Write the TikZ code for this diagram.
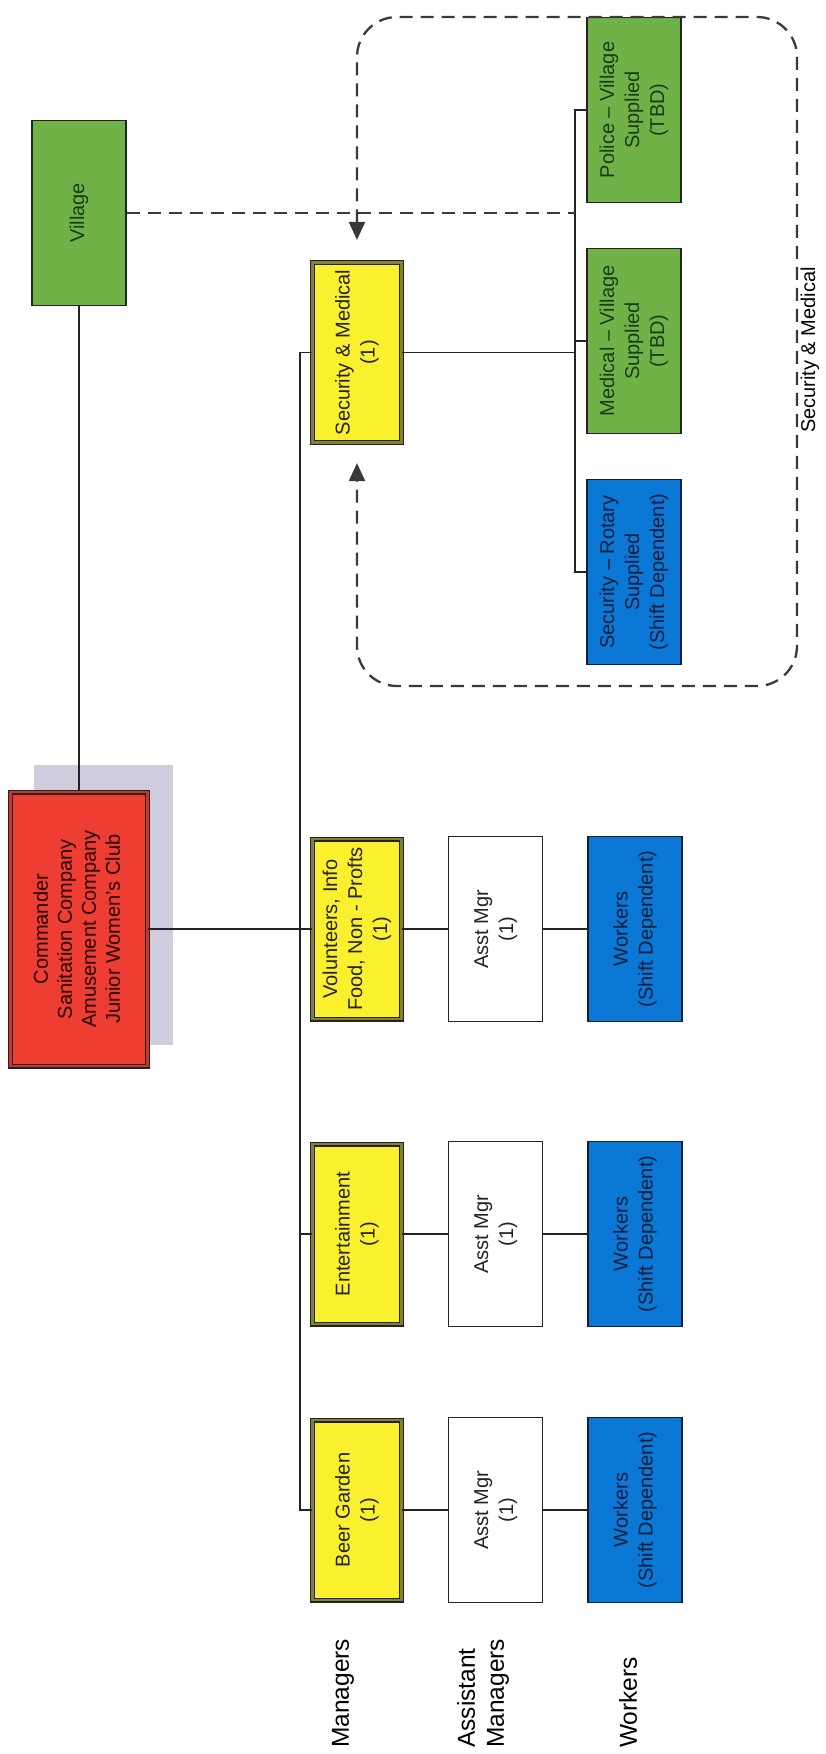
\documentclass[tikz,border=0pt]{standalone}
\usepackage{fontspec}
\setmainfont{Liberation Sans}
\usepackage{graphicx}
\usetikzlibrary{arrows.meta,calc}
\definecolor{ylw}{RGB}{250,240,45}
\definecolor{olv}{RGB}{130,130,55}
\definecolor{grn}{RGB}{112,178,72}
\definecolor{grntxt}{RGB}{25,60,25}
\definecolor{blu}{RGB}{10,120,212}
\definecolor{blutxt}{RGB}{15,30,60}
\definecolor{redf}{RGB}{238,62,52}
\definecolor{shd}{RGB}{205,205,222}
\definecolor{ink}{RGB}{35,35,35}
\newcommand{\vtext}[1]{\rotatebox{90}{\begin{tabular}{@{}c@{}}#1\end{tabular}}}
\begin{document}
\begin{tikzpicture}[x=1pt,y=-1pt,
  base/.style={draw=ink, line width=1.8pt, minimum width=94pt, minimum height=185pt, inner sep=0pt, font=\fontsize{20}{25}\selectfont, text=ink},
  mgr/.style={base, fill=ylw, double=olv, double distance=2.6pt, line width=1.2pt, minimum width=89pt, minimum height=180pt},
  cmdbox/.style={base, fill=redf, double=redf!85!black, double distance=2.6pt, line width=1.2pt, minimum width=137pt, minimum height=274pt, font=\fontsize{20}{24}\selectfont, text=black!85!red},
  asst/.style={base, fill=white},
  wrk/.style={base, fill=blu, text=blutxt, draw=blutxt},
  vil/.style={base, fill=grn, text=grntxt},
  conn/.style={draw=ink, line width=1.8pt},
  grp/.style={draw=ink!90, line width=2.3pt, dash pattern=on 13pt off 8pt},
  lbl/.style={font=\fontsize{24.5}{29}\selectfont, text=black, rotate=90, anchor=west, align=left, inner sep=0pt},
  tip/.style={},
]
\useasboundingbox (0,0) rectangle (825,1754);

% shadow of commander box
\node[fill=shd, minimum width=139pt, minimum height=280pt, inner sep=0pt] (shadow) at (103,905) {};

% top
\node[vil] (village) at (79,213) {\vtext{Village}};
\node[cmdbox] (cmd) at (79,929) {\vtext{Commander\\Sanitation Company\\Amusement Company\\Junior Women's Club}};

% managers
\node[mgr] (sm) at (357,352.5) {\vtext{Security \& Medical\\(1)}};
\node[mgr] (vol) at (357,929) {\vtext{Volunteers, Info\\Food, Non - Profts\\(1)}};
\node[mgr] (ent) at (357,1234) {\vtext{Entertainment\\(1)}};
\node[mgr] (beer) at (357,1510) {\vtext{Beer Garden\\(1)}};

% assistant managers
\node[asst] (a1) at (495.5,929) {\vtext{Asst Mgr\\(1)}};
\node[asst] (a2) at (495.5,1234) {\vtext{Asst Mgr\\(1)}};
\node[asst] (a3) at (495.5,1510) {\vtext{Asst Mgr\\(1)}};

% workers
\node[wrk] (w1) at (635,929) {\vtext{Workers\\(Shift Dependent)}};
\node[wrk] (w2) at (635,1234) {\vtext{Workers\\(Shift Dependent)}};
\node[wrk] (w3) at (635,1510) {\vtext{Workers\\(Shift Dependent)}};

% security subtree
\node[vil] (police) at (634,110) {\vtext{Police -- Village\\Supplied\\(TBD)}};
\node[vil] (medical) at (634,341) {\vtext{Medical -- Village\\Supplied\\(TBD)}};
\node[wrk] (secrot) at (634,572) {\vtext{Security -- Rotary\\Supplied\\(Shift Dependent)}};

% connectors
\draw[conn] (village.south) -- (cmd.north);
\draw[conn] (cmd.east) -- (vol.west);
\coordinate (bustop) at ($(sm.west)+(-12,0)$);
\draw[conn] (sm.west) -- (bustop) |- (beer.west);
\draw[conn] (bustop |- ent.west) -- (ent.west);
\draw[conn] (vol.east) -- (a1.west);
\draw[conn] (ent.east) -- (a2.west);
\draw[conn] (beer.east) -- (a3.west);
\draw[conn] (a1.east) -- (w1.west);
\draw[conn] (a2.east) -- (w2.west);
\draw[conn] (a3.east) -- (w3.west);

\coordinate (sx) at ($(police.west)+(-11,0)$);
\draw[conn] (sm.east) -- (sm.east -| sx);
\draw[conn] (police.west) -- (sx) |- (secrot.west);
\draw[conn] (sx |- medical.west) -- (medical.west);

% dashed relations
\draw[grp] (village.east) -- (village.east -| sx);
\coordinate (ftop) at (0,17);
\coordinate (fbot) at (0,686);
\coordinate (fright) at (797,0);
\draw[grp, rounded corners=40pt, {Triangle[width=16pt,length=18pt]}-{Triangle[width=16pt,length=18pt]}]
  ($(sm.north)+(0,-22)$) -- (sm.north |- ftop) -- (fright |- ftop) -- (fright |- fbot) -- (sm.south |- fbot) -- ($(sm.south)+(0,20)$);
\node[font=\fontsize{20}{24}\selectfont, rotate=90, inner sep=0pt] (grplbl) at (810,350) {Security \& Medical};

% row labels
\node[lbl] (lm) at (343,1748) {Managers};
\node[lbl] (la) at (483,1748) {Assistant\\Managers};
\node[lbl] (lw) at (628,1748) {Workers};
\end{tikzpicture}
\end{document}
